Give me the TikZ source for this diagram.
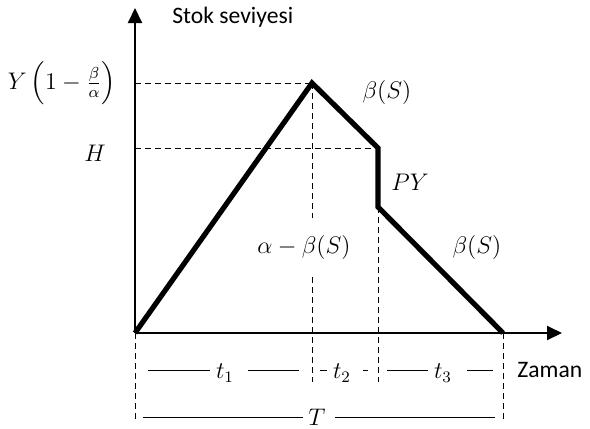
\documentclass[tikz,border=0pt]{standalone}
\usepackage{amsmath}
\usepackage{fontspec}
\setsansfont{Carlito}
\usepackage{tikz}
\usetikzlibrary{arrows.meta,calc}

\begin{document}
\begin{tikzpicture}[x=0.5pt, y=-0.5pt, font=\fontsize{11.5}{13}\selectfont,
    axis/.style={line width=1pt, -{Triangle[length=7.5pt,width=7pt]}},
    stock/.style={line width=2.6pt, line join=miter},
    guide/.style={line width=0.5pt, dash pattern=on 3pt off 2pt},
    dimline/.style={line width=0.5pt},
    lab/.style={inner sep=1pt},
    word/.style={inner sep=1pt, anchor=west, font=\sffamily\fontsize{11.8}{13}\selectfont}]
  \useasboundingbox (0,0) rectangle (590,429);
  % corners of the stock curve
  \coordinate (O) at (135,333);
  \coordinate (peak) at (312,83);
  \coordinate (hh) at (378,148);
  \coordinate (drop) at (378,207);
  \coordinate (end) at (503,333);
  \coordinate (ytip) at (135,8);
  \coordinate (xtip) at (562,333);
  % guides
  \draw[guide] (O |- peak) -- (peak);
  \draw[guide] (O |- hh) -- (hh);
  \draw[guide] (peak) -- (312,218);
  \draw[guide] (312,277) -- (312,382);
  \draw[guide] (drop) -- (378,382);
  \draw[guide] (O) -- (135,422);
  \draw[guide] (end) -- (503,422);
  % axes and curve
  \draw[axis] (O) -- (ytip);
  \draw[axis] (O) -- (xtip);
  \draw[stock] (O) -- (peak) -- (hh) -- (drop) -- (end);
  % labels
  \node[word] (ylab) at (170,17) {Stok seviyesi};
  \node[word] (xlab) at (515,370) {Zaman};
  \node[lab] (ylev) at (62,83) {$Y\,\Bigl(1-\frac{\beta}{\alpha}\Bigr)$};
  \node[lab] (hlev) at (95,153) {$H$};
  \node[lab] (b1) at (387,92) {$\beta(S)$};
  \node[lab] (py) at (410,182) {$PY$};
  \node[lab] (b2) at (477,247) {$\beta(S)$};
  \node[lab] (ab) at (304,247) {$\alpha-\beta(S)$};
  % time spans
  \node[lab] (t1) at (225,373) {$t_1$};
  \node[lab] (t2) at (342,373) {$t_2$};
  \node[lab] (t3) at (443,373) {$t_3$};
  \node[lab] (tt) at (317,417) {$T$};
  \draw[dimline] (148,370) -- (210,370) (248,370) -- (299,370);
  \draw[dimline] (320,370) -- (327,370) (363,370) -- (368,370);
  \draw[dimline] (387,370) -- (428,370) (467,370) -- (493,370);
  \draw[dimline] (143,417) -- (303,417) (335,417) -- (495,417);
\end{tikzpicture}
\end{document}
